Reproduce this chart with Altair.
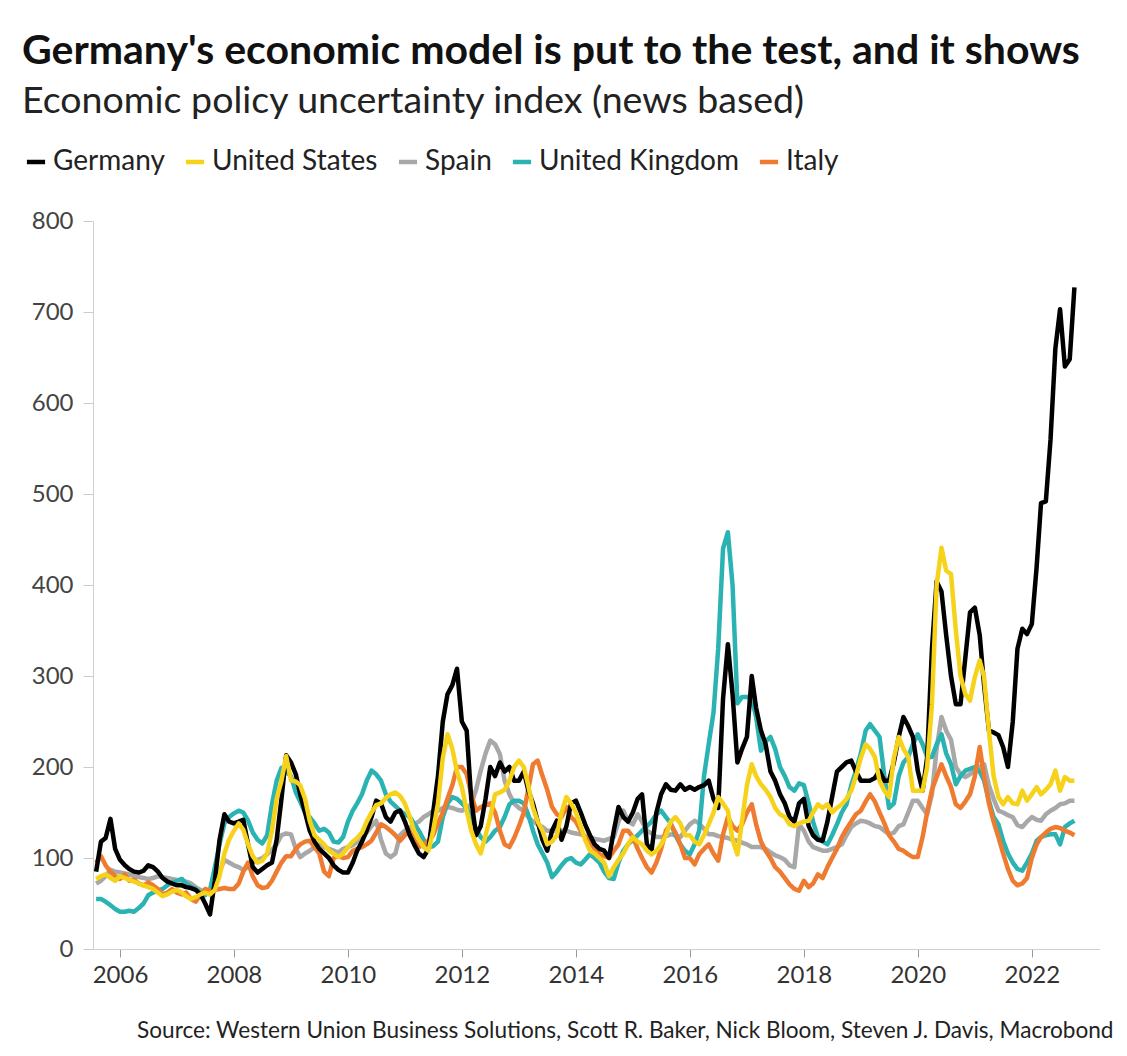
import altair as alt
import pandas as pd

# Monthly values, Aug 2005 - Oct 2022
germany = (
    [85, 118, 122, 143, 110]
    + [98, 92, 88, 85, 84, 86, 92, 90, 85, 78, 74, 72]
    + [70, 70, 68, 67, 65, 60, 50, 38, 75, 120, 148, 140]
    + [138, 140, 142, 115, 90, 84, 88, 92, 95, 120, 165, 213]
    + [205, 192, 170, 150, 130, 118, 110, 105, 100, 92, 87, 84]
    + [84, 95, 108, 118, 130, 145, 163, 160, 145, 140, 150, 152]
    + [140, 125, 115, 105, 101, 110, 150, 190, 250, 280, 290, 308]
    + [250, 240, 165, 125, 135, 165, 200, 190, 205, 195, 200, 185]
    + [185, 195, 175, 160, 140, 120, 108, 130, 141, 120, 135, 160]
    + [163, 150, 137, 125, 115, 110, 108, 100, 130, 156, 145, 140]
    + [150, 165, 170, 115, 108, 150, 170, 181, 175, 174, 181, 175]
    + [178, 175, 178, 180, 185, 165, 155, 275, 335, 280, 205, 220]
    + [233, 300, 265, 240, 225, 195, 185, 170, 160, 145, 140, 160]
    + [165, 135, 125, 120, 119, 140, 167, 195, 200, 205, 207, 195]
    + [185, 185, 185, 188, 196, 185, 185, 205, 233, 255, 245, 233]
    + [196, 174, 210, 330, 404, 393, 345, 300, 269, 269, 320, 370]
    + [375, 345, 290, 240, 238, 235, 222, 200, 250, 330, 352, 346]
    + [357, 420, 490, 492, 560, 660, 703, 640, 648, 727]
)
united_states = (
    [77, 80, 82, 78, 75]
    + [80, 78, 76, 74, 72, 70, 68, 66, 62, 58, 60, 63]
    + [65, 62, 58, 55, 57, 60, 62, 60, 65, 80, 105, 120]
    + [130, 138, 131, 115, 102, 95, 97, 105, 130, 165, 185, 212]
    + [185, 184, 180, 165, 141, 125, 120, 115, 108, 105, 101, 105]
    + [112, 118, 122, 128, 140, 150, 158, 160, 166, 170, 172, 168]
    + [160, 145, 130, 120, 112, 108, 130, 160, 210, 236, 220, 195]
    + [178, 152, 130, 115, 105, 125, 145, 170, 172, 175, 185, 200]
    + [207, 200, 180, 155, 140, 130, 115, 118, 125, 150, 167, 160]
    + [150, 135, 120, 108, 105, 100, 95, 80, 90, 98, 105, 115]
    + [123, 118, 115, 108, 104, 108, 115, 125, 140, 145, 138, 125]
    + [125, 118, 115, 125, 137, 150, 167, 160, 152, 120, 104, 141]
    + [180, 203, 190, 181, 175, 167, 155, 148, 145, 137, 135, 138]
    + [140, 141, 150, 159, 155, 159, 150, 155, 159, 165, 174, 190]
    + [210, 225, 220, 211, 185, 174, 167, 210, 233, 220, 211, 174]
    + [174, 174, 200, 269, 400, 441, 416, 412, 350, 300, 280, 273]
    + [299, 317, 299, 240, 190, 167, 159, 167, 160, 159, 174, 163]
    + [170, 178, 170, 175, 181, 196, 174, 189, 185, 185]
)
spain = (
    [72, 75, 80, 87, 85]
    + [84, 83, 82, 80, 79, 78, 77, 78, 80, 79, 78, 77]
    + [76, 75, 74, 72, 68, 65, 62, 60, 68, 85, 98, 95]
    + [92, 90, 87, 90, 95, 98, 100, 104, 109, 115, 125, 127]
    + [126, 110, 101, 105, 108, 112, 115, 112, 110, 108, 106, 110]
    + [112, 114, 118, 123, 128, 135, 141, 120, 105, 101, 105, 125]
    + [130, 133, 137, 140, 145, 148, 152, 152, 155, 156, 155, 153]
    + [152, 155, 159, 175, 196, 215, 229, 225, 214, 185, 170, 160]
    + [155, 152, 145, 140, 137, 134, 130, 130, 130, 130, 130, 128]
    + [127, 126, 124, 123, 121, 120, 119, 121, 123, 140, 152, 140]
    + [137, 148, 140, 130, 127, 123, 123, 124, 126, 125, 123, 130]
    + [137, 141, 138, 132, 126, 126, 124, 123, 122, 120, 119, 117]
    + [115, 112, 112, 112, 110, 106, 103, 101, 98, 92, 90, 137]
    + [130, 118, 112, 110, 108, 108, 110, 112, 115, 125, 134, 138]
    + [141, 140, 138, 135, 134, 130, 126, 128, 135, 137, 150, 163]
    + [163, 155, 148, 170, 220, 255, 240, 230, 200, 192, 189, 192]
    + [196, 200, 203, 180, 165, 152, 150, 147, 145, 136, 134, 140]
    + [145, 142, 141, 148, 152, 155, 159, 160, 163, 163]
)
united_kingdom = (
    [55, 55, 52, 48, 44]
    + [41, 41, 42, 41, 45, 50, 59, 62, 64, 66, 70, 73]
    + [75, 77, 72, 68, 66, 62, 59, 65, 90, 115, 138, 145]
    + [149, 152, 150, 141, 128, 120, 116, 125, 159, 185, 199, 195]
    + [190, 172, 162, 150, 145, 138, 130, 132, 128, 118, 117, 123]
    + [140, 152, 160, 170, 185, 196, 192, 185, 170, 162, 157, 152]
    + [148, 145, 138, 130, 120, 112, 113, 118, 145, 160, 167, 165]
    + [160, 155, 145, 132, 123, 118, 123, 130, 134, 145, 159, 163]
    + [163, 160, 148, 130, 115, 105, 95, 79, 85, 92, 98, 100]
    + [95, 93, 98, 104, 100, 95, 85, 78, 77, 95, 108, 115]
    + [120, 125, 130, 135, 140, 148, 152, 145, 138, 125, 115, 108]
    + [104, 115, 130, 190, 225, 260, 330, 440, 458, 400, 270, 277]
    + [277, 275, 255, 218, 228, 233, 220, 200, 190, 178, 174, 182]
    + [180, 160, 140, 123, 118, 115, 125, 137, 150, 159, 180, 196]
    + [215, 240, 247, 240, 233, 190, 155, 160, 190, 205, 211, 225]
    + [236, 225, 211, 211, 225, 236, 215, 203, 181, 190, 196, 198]
    + [200, 195, 185, 163, 145, 137, 119, 105, 95, 88, 86, 95]
    + [105, 119, 123, 125, 126, 126, 115, 134, 138, 141]
)
italy = (
    [95, 102, 92, 85, 80]
    + [77, 82, 75, 76, 72, 70, 73, 70, 66, 60, 62, 66]
    + [62, 60, 62, 55, 52, 60, 66, 64, 65, 66, 67, 66]
    + [66, 72, 85, 95, 80, 70, 67, 68, 75, 85, 95, 102]
    + [102, 110, 115, 118, 119, 112, 105, 85, 80, 100, 102, 100]
    + [101, 108, 110, 112, 115, 119, 128, 137, 134, 130, 125, 119]
    + [125, 130, 120, 112, 115, 119, 125, 138, 150, 165, 180, 200]
    + [200, 192, 170, 152, 156, 158, 160, 150, 130, 115, 112, 122]
    + [135, 150, 175, 203, 207, 190, 175, 156, 148, 145, 156, 145]
    + [140, 130, 123, 118, 110, 104, 102, 100, 108, 115, 130, 130]
    + [123, 110, 100, 90, 84, 95, 110, 130, 137, 128, 115, 100]
    + [100, 93, 104, 110, 115, 105, 97, 126, 145, 135, 130, 137]
    + [150, 159, 137, 118, 108, 100, 90, 85, 78, 71, 66, 64]
    + [75, 68, 72, 82, 78, 90, 100, 110, 123, 132, 140, 148]
    + [152, 162, 170, 162, 150, 138, 125, 118, 110, 108, 104, 101]
    + [101, 123, 150, 175, 189, 203, 190, 178, 159, 155, 162, 170]
    + [190, 222, 190, 160, 140, 123, 105, 88, 75, 70, 72, 78]
    + [100, 115, 123, 128, 132, 134, 133, 130, 128, 125]
)

countries = ["Germany", "United States", "Spain", "United Kingdom", "Italy"]
colors = ["#000000", "#f6d31a", "#a8a8a8", "#2bb3b3", "#ee7b30"]
series = {
    "Germany": germany,
    "United States": united_states,
    "Spain": spain,
    "United Kingdom": united_kingdom,
    "Italy": italy,
}
dates = pd.date_range("2005-08-01", periods=len(germany), freq="MS").strftime("%Y-%m-%d").tolist()
year_ticks = list(range(2006, 2023, 2))

rows = []
for name, vals in series.items():
    for d, v in zip(dates, vals):
        rows.append({"date": d, "country": name, "value": v})
df = pd.DataFrame(rows)

FONT = "Lato"

color = alt.Color(
    "country:N",
    scale=alt.Scale(domain=countries, range=colors),
    legend=alt.Legend(
        orient="none", legendX=-71, legendY=-73, direction="horizontal", columns=5,
        title=None, symbolType="stroke", symbolStrokeWidth=4.5, symbolSize=330,
        labelFontSize=28, labelFont=FONT, labelColor="#222", columnPadding=11,
        labelOffset=3, labelLimit=500,
    ),
)

x = alt.X(
    "date:T",
    scale=alt.Scale(domain=[alt.DateTime(year=2005, month=7, date=12),
                            alt.DateTime(year=2023, month=3, date=14)]),
    axis=alt.Axis(
        values=[alt.DateTime(year=y, month=1, date=1) for y in year_ticks],
        format="%Y", labelFontSize=24, labelFont=FONT, labelColor="#333",
        tickSize=8, tickColor="#999", domainColor="#d0d0d0", labelPadding=6,
        grid=False,
        title="Source: Western Union Business Solutions, Scott R. Baker, Nick Bloom, Steven J. Davis, Macrobond",
        titleX=1020, titleY=81, titleAlign="right", titleBaseline="middle",
        titleFontSize=22.6, titleFontWeight="normal", titleColor="#222", titleFont=FONT,
    ),
)
y = alt.Y(
    "value:Q",
    scale=alt.Scale(domain=[0, 800], nice=False),
    axis=alt.Axis(
        values=list(range(0, 801, 100)), labelFontSize=24, labelFont=FONT,
        labelColor="#444", tickSize=10, tickColor="#ccc", domainColor="#d0d0d0",
        labelPadding=10, grid=False, title=None,
    ),
)

draw_order = ["Spain", "United Kingdom", "Italy", "Germany", "United States"]
layers = [
    alt.Chart(df)
    .transform_filter(alt.datum.country == name)
    .mark_line(strokeWidth=4.5, strokeJoin="round")
    .encode(x=x, y=y, color=color)
    for name in draw_order
]

chart = (
    alt.layer(*layers)
    .properties(
        width=1007,
        height=728,
        background="white",
        padding={"left": 14, "top": 22, "right": 6, "bottom": 10},
        title=alt.TitleParams(
            text="Germany's economic model is put to the test, and it shows",
            subtitle="Economic policy uncertainty index (news based)",
            anchor="start", frame="group", dx=-71, offset=27,
            font=FONT, fontSize=41, fontWeight="bold", color="#111",
            subtitleFont=FONT, subtitleFontSize=37.5, subtitleColor="#222",
            subtitlePadding=10,
        ),
    )
    .configure_view(strokeWidth=0)
)

chart.save("out.html", embed_options={"renderer": "svg", "actions": False})
